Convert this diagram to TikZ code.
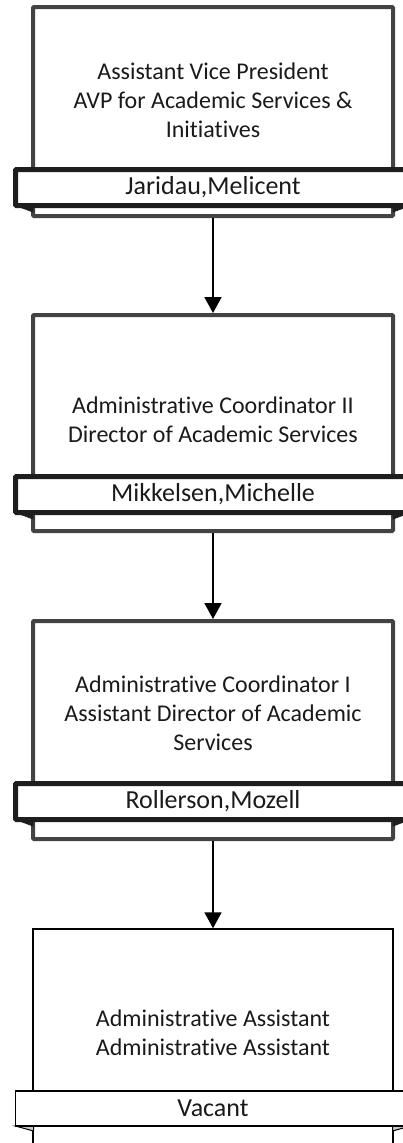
\documentclass[tikz,border=0pt]{standalone}
\usepackage{fontspec}
\setmainfont{Carlito}[Ligatures=NoCommon]
\usepackage{tikz}
\usetikzlibrary{arrows.meta}
\definecolor{boxline}{HTML}{434343}
\definecolor{bannerline}{HTML}{1E1E1E}
\definecolor{ink}{HTML}{1A1A1A}
\definecolor{foldgray}{HTML}{C8C8C8}

\begin{document}
\begin{tikzpicture}[x=1pt, y=-1pt,
    posbox/.style={draw=boxline, line width=4pt, fill=white, rounded corners=1pt,
          minimum width=360pt, inner sep=0pt},
    namebar/.style={draw=bannerline, line width=5pt, fill=white, rounded corners=1pt,
          minimum width=395pt, minimum height=36pt, inner sep=0pt,
          text=ink, font=\fontsize{26}{30}\selectfont},
    title/.style={align=center, text=ink, font=\fontsize{24}{29}\selectfont},
    fold/.style={fill=bannerline, draw=bannerline, line width=0.8pt},
    link/.style={-{Triangle[width=17pt,length=16pt]}, line width=1.8pt, black}]
    \useasboundingbox (0,0) rectangle (402,1143);

    % positions
    \node[posbox, minimum height=209pt] (box1) at (213,111.5) {};
    \node[posbox, minimum height=216pt] (box2) at (213,423) {};
    \node[posbox, minimum height=218pt] (box3) at (213,730) {};
    \node[posbox, draw=black, line width=1.5pt, rounded corners=0pt,
          minimum height=217pt] (box4) at (213,1037.5) {};

    % folds under the name bars
    \fill[fold] (15.5,205.5) -- (33,205.5) -- (33,212) -- cycle;
    \fill[fold] (410.5,205.5) -- (393,205.5) -- (393,212) -- cycle;
    \fill[fold] (15.5,512.5) -- (33,512.5) -- (33,519) -- cycle;
    \fill[fold] (410.5,512.5) -- (393,512.5) -- (393,519) -- cycle;
    \fill[fold] (15.5,819.5) -- (33,819.5) -- (33,826) -- cycle;
    \fill[fold] (410.5,819.5) -- (393,819.5) -- (393,826) -- cycle;
    \filldraw[fill=foldgray, draw=black, line width=1pt] (15.5,1126) -- (33.5,1126) -- (33.5,1131) -- cycle;
    \filldraw[fill=foldgray, draw=black, line width=1pt] (410.5,1126) -- (392.5,1126) -- (392.5,1131) -- cycle;

    \node[namebar] (name1) at (213,187.5) {Jaridau,Melicent};
    \node[namebar] (name2) at (213,494.5) {Mikkelsen,Michelle};
    \node[namebar] (name3) at (213,801.5) {Rollerson,Mozell};
    \node[namebar, draw=black, line width=1.5pt, rounded corners=0pt,
          minimum height=35pt] (name4) at (213,1108.5) {Vacant};

    \node[title] (ttl1) at (213,100) {Assistant Vice President\\AVP for Academic Services \&\\Initiatives};
    \node[title] (ttl2) at (213,420) {Administrative Coordinator II\\Director of Academic Services};
    \node[title] (ttl3) at (213,713) {Administrative Coordinator I\\Assistant Director of Academic\\Services};
    \node[title] (ttl4) at (213,1033) {Administrative Assistant\\Administrative Assistant};

    \draw[link] (box1.south) -- (box2.north);
    \draw[link] (box2.south) -- (box3.north);
    \draw[link] (box3.south) -- (box4.north);
\end{tikzpicture}
\end{document}
